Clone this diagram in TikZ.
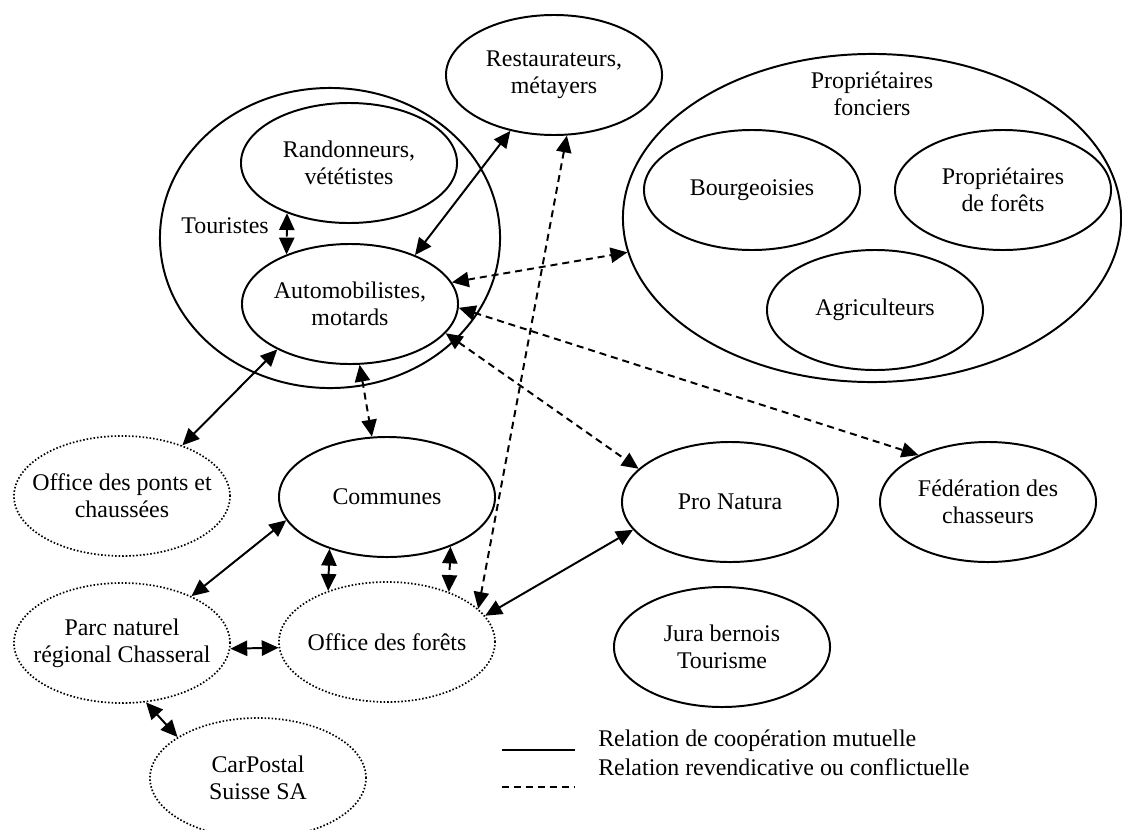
\documentclass[tikz,border=0pt]{standalone}
\usepackage{fontspec}
\setmainfont{Liberation Serif}
\usetikzlibrary{shapes.geometric, arrows.meta}

\begin{document}
\begin{tikzpicture}[
    x=0.025cm, y=-0.025cm,
    font=\fontsize{17}{19}\selectfont,
    actor/.style={ellipse, draw, line width=1.4pt, inner sep=0pt,
        minimum width=5.4cm, minimum height=3cm},
    agency/.style={actor, line width=1.2pt, dash pattern=on 1.1pt off 1.4pt},
    tag/.style={align=center, inner sep=0pt},
    coop/.style={line width=1.4pt, {Triangle[length=4.2mm, width=3.8mm]}-{Triangle[length=4.2mm, width=3.8mm]}},
    conflict/.style={coop, dash pattern=on 5pt off 3.5pt},
    every label/.style={tag}
        ]
    \useasboundingbox (0, 0) rectangle (1122, 829);

    % groupes
    \node[actor, minimum width=8.5cm, minimum height=7.5cm] (touristes) at (330, 238) {};
    \node[tag] (touristesT) at (225, 226) {Touristes};
    \node[actor, minimum width=12.45cm, minimum height=8.2cm] (fonciers) at (872, 218) {};
    \node[tag] (fonciersT) at (872, 94) {Propriétaires\\fonciers};

    % acteurs
    \node[actor, label={center:Restaurateurs,\\métayers}] (resto) at (554, 75) {};
    \node[actor, label={center:Randonneurs,\\vététistes}] (rando) at (349, 163) {};
    \node[actor, label={center:Automobilistes,\\motards}] (auto) at (350, 304) {};
    \node[actor, label={center:Bourgeoisies}] (bourg) at (752, 190) {};
    \node[actor, label={center:Propriétaires\\de forêts}] (proforets) at (1003, 190) {};
    \node[actor, label={center:Agriculteurs}] (agri) at (875, 310) {};
    \node[actor, label={center:Communes}] (communes) at (387, 497) {};
    \node[actor, label={center:Pro Natura}] (natura) at (730, 502) {};
    \node[actor, label={center:Fédération des\\chasseurs}] (chasse) at (988, 502) {};
    \node[actor, label={center:Jura bernois\\Tourisme}] (jura) at (722, 647) {};

    % services
    \node[agency, label={center:Office des ponts et\\chaussées}] (ponts) at (122, 496) {};
    \node[agency, label={center:Parc naturel\\régional Chasseral}] (parc) at (122, 643) {};
    \node[agency, label={center:Office des forêts}] (forets) at (387, 642) {};
    \node[agency, label={center:CarPostal\\Suisse SA}] (carpostal) at (258, 778) {};

    % relations
    \draw[conflict] (rando.219) -- (auto.142);
    \draw[coop] (resto.232) -- (auto.37);
    \draw[conflict] (auto.12) -- (fonciers.188);
    \draw[conflict] (auto.-2) -- (chasse.146);
    \draw[conflict] (auto.-17) -- (natura.160);
    \draw[conflict] (auto.-81) -- (communes.104);
    \draw[coop] (auto.212) -- (ponts.40);
    \draw[conflict] (resto.-78) -- (forets.20);
    \draw[coop] (communes.193) -- (parc.34);
    \draw[coop] (communes.222) -- (forets.139);
    \draw[conflict] (communes.-38) -- (forets.39);
    \draw[coop] (parc.-3) -- (forets.183);
    \draw[coop] (parc.-68) -- (carpostal.153);
    \draw[coop] (natura.196) -- (forets.15);

    % legende
    \coordinate (coopA) at (502, 750);
    \coordinate (coopB) at (575, 750);
    \coordinate (conflictA) at (502, 787);
    \coordinate (conflictB) at (575, 787);
    \draw[line width=1.4pt] (coopA) -- (coopB);
    \draw[line width=1.4pt, dash pattern=on 5pt off 3.5pt] (conflictA) -- (conflictB);
    \node[tag, anchor=west] (coopT) at (598, 741) {Relation de coopération mutuelle};
    \node[tag, anchor=west] (conflictT) at (598, 767) {Relation revendicative ou conflictuelle};
\end{tikzpicture}
\end{document}
